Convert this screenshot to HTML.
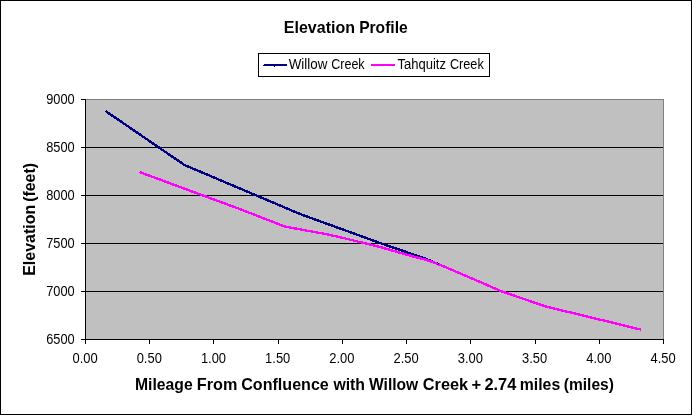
<!DOCTYPE html>
<html>
<head>
<meta charset="utf-8">
<title>Elevation Profile</title>
<style>
html,body{margin:0;padding:0;background:#fff;}
body{width:692px;height:415px;overflow:hidden;font-family:"Liberation Sans",sans-serif;}
svg{display:block;}
text{font-family:"Liberation Sans",sans-serif;fill:#000;}
.b{font-weight:bold;font-size:16.5px;}
.n{font-size:14px;}
</style>
</head>
<body>
<svg width="692" height="415" viewBox="0 0 692 415">
  <rect x="0" y="0" width="692" height="415" fill="#fff"/>
  <rect x="0.5" y="0.5" width="691" height="414" fill="none" stroke="#000" stroke-width="1" shape-rendering="crispEdges"/>

  <!-- plot area -->
  <rect x="85.5" y="99.5" width="578" height="240" fill="#c0c0c0" stroke="#808080" stroke-width="1" shape-rendering="crispEdges"/>
  <g stroke="#000" stroke-width="1" shape-rendering="crispEdges">
    <!-- gridlines -->
    <line x1="86" y1="147.5" x2="663" y2="147.5"/>
    <line x1="86" y1="195.5" x2="663" y2="195.5"/>
    <line x1="86" y1="243.5" x2="663" y2="243.5"/>
    <line x1="86" y1="291.5" x2="663" y2="291.5"/>
    <!-- axes -->
    <line x1="85.5" y1="99" x2="85.5" y2="340"/>
    <line x1="85" y1="339.5" x2="664" y2="339.5"/>
    <!-- y ticks -->
    <line x1="81" y1="99.5" x2="86" y2="99.5"/>
    <line x1="81" y1="147.5" x2="86" y2="147.5"/>
    <line x1="81" y1="195.5" x2="86" y2="195.5"/>
    <line x1="81" y1="243.5" x2="86" y2="243.5"/>
    <line x1="81" y1="291.5" x2="86" y2="291.5"/>
    <line x1="81" y1="339.5" x2="86" y2="339.5"/>
    <!-- x ticks -->
    <line x1="85.5" y1="339" x2="85.5" y2="344"/>
    <line x1="149.5" y1="339" x2="149.5" y2="344"/>
    <line x1="213.5" y1="339" x2="213.5" y2="344"/>
    <line x1="278.5" y1="339" x2="278.5" y2="344"/>
    <line x1="342.5" y1="339" x2="342.5" y2="344"/>
    <line x1="406.5" y1="339" x2="406.5" y2="344"/>
    <line x1="470.5" y1="339" x2="470.5" y2="344"/>
    <line x1="535.5" y1="339" x2="535.5" y2="344"/>
    <line x1="599.5" y1="339" x2="599.5" y2="344"/>
    <line x1="663.5" y1="339" x2="663.5" y2="344"/>
  </g>

  <!-- series -->
  <g fill="none" stroke-width="2.4" stroke-linejoin="round" shape-rendering="crispEdges">
    <polyline stroke="#000080" points="105.5,111 184.5,165 300,214 380,243 415,255 427,259.2 438,264"/>
    <polyline stroke="#ff00ff" points="139.5,172 180,187 240,209.1 284.5,226.4 298,229 314.5,232 325.5,234 343.5,238 359.5,242 380,247 418.5,258 427,260.1 438,264 468.3,276.9 501.3,291.2 545.4,306.4 641,329.6"/>
  </g>
  <path d="M438 263h1v1h-1zM437 264h1v1h-1z" fill="#000080" shape-rendering="crispEdges"/>

  <!-- chart title -->
  <text class="b" x="283.85" y="33" textLength="71.13" lengthAdjust="spacingAndGlyphs">Elevation</text>
  <text class="b" x="359.14" y="33" textLength="48.58" lengthAdjust="spacingAndGlyphs">Profile</text>

  <!-- legend -->
  <rect x="258.5" y="53.5" width="231" height="23" fill="#fff" stroke="#000" stroke-width="1" shape-rendering="crispEdges"/>
  <path d="M264 64h23v2h-24v-1h1zM274 66h1v1h-1z" fill="#000080" shape-rendering="crispEdges"/>
  <text class="n" x="288.73" y="69" textLength="38.73" lengthAdjust="spacingAndGlyphs">Willow</text>
  <text class="n" x="331.18" y="69" textLength="33.49" lengthAdjust="spacingAndGlyphs">Creek</text>
  <line x1="371" y1="65" x2="395" y2="65" stroke="#ff00ff" stroke-width="2" shape-rendering="crispEdges"/>
  <text class="n" x="397.42" y="69" textLength="48.53" lengthAdjust="spacingAndGlyphs">Tahquitz</text>
  <text class="n" x="449.92" y="69" textLength="33.86" lengthAdjust="spacingAndGlyphs">Creek</text>

  <!-- value axis labels -->
  <text class="n" x="46.20" y="103.6" textLength="28.55" lengthAdjust="spacingAndGlyphs">9000</text>
  <text class="n" x="46.20" y="151.6" textLength="28.55" lengthAdjust="spacingAndGlyphs">8500</text>
  <text class="n" x="46.20" y="199.6" textLength="28.55" lengthAdjust="spacingAndGlyphs">8000</text>
  <text class="n" x="46.20" y="247.6" textLength="28.55" lengthAdjust="spacingAndGlyphs">7500</text>
  <text class="n" x="46.20" y="295.6" textLength="28.55" lengthAdjust="spacingAndGlyphs">7000</text>
  <text class="n" x="46.20" y="343.6" textLength="28.55" lengthAdjust="spacingAndGlyphs">6500</text>

  <!-- category axis labels -->
  <text class="n" x="72.45" y="362.6" textLength="25.16" lengthAdjust="spacingAndGlyphs">0.00</text>
  <text class="n" x="136.67" y="362.6" textLength="25.16" lengthAdjust="spacingAndGlyphs">0.50</text>
  <text class="n" x="200.89" y="362.6" textLength="25.16" lengthAdjust="spacingAndGlyphs">1.00</text>
  <text class="n" x="265.12" y="362.6" textLength="25.16" lengthAdjust="spacingAndGlyphs">1.50</text>
  <text class="n" x="329.34" y="362.6" textLength="25.16" lengthAdjust="spacingAndGlyphs">2.00</text>
  <text class="n" x="393.56" y="362.6" textLength="25.16" lengthAdjust="spacingAndGlyphs">2.50</text>
  <text class="n" x="457.78" y="362.6" textLength="25.16" lengthAdjust="spacingAndGlyphs">3.00</text>
  <text class="n" x="522.00" y="362.6" textLength="25.16" lengthAdjust="spacingAndGlyphs">3.50</text>
  <text class="n" x="586.23" y="362.6" textLength="25.16" lengthAdjust="spacingAndGlyphs">4.00</text>
  <text class="n" x="650.45" y="362.6" textLength="25.16" lengthAdjust="spacingAndGlyphs">4.50</text>

  <!-- axis titles -->
  <text class="b" x="134.98" y="390" textLength="57.72" lengthAdjust="spacingAndGlyphs">Mileage</text>
  <text class="b" x="196.85" y="390" textLength="40.54" lengthAdjust="spacingAndGlyphs">From</text>
  <text class="b" x="241.26" y="390" textLength="87.54" lengthAdjust="spacingAndGlyphs">Confluence</text>
  <text class="b" x="333.43" y="390" textLength="31.59" lengthAdjust="spacingAndGlyphs">with</text>
  <text class="b" x="369.01" y="390" textLength="49.26" lengthAdjust="spacingAndGlyphs">Willow</text>
  <text class="b" x="422.80" y="390" textLength="45.33" lengthAdjust="spacingAndGlyphs">Creek</text>
  <text class="b" x="471.56" y="390" textLength="9.68" lengthAdjust="spacingAndGlyphs">+</text>
  <text class="b" x="484.40" y="390" textLength="31.86" lengthAdjust="spacingAndGlyphs">2.74</text>
  <text class="b" x="519.77" y="390" textLength="40.42" lengthAdjust="spacingAndGlyphs">miles</text>
  <text class="b" x="563.83" y="390" textLength="50.06" lengthAdjust="spacingAndGlyphs">(miles)</text>
  <g transform="translate(35,274.7) rotate(-90)">
  <text class="b" x="-1.13" y="0" textLength="71.06" lengthAdjust="spacingAndGlyphs">Elevation</text>
  <text class="b" x="72.93" y="0" textLength="38.74" lengthAdjust="spacingAndGlyphs">(feet)</text>
  </g>
</svg>
</body>
</html>
